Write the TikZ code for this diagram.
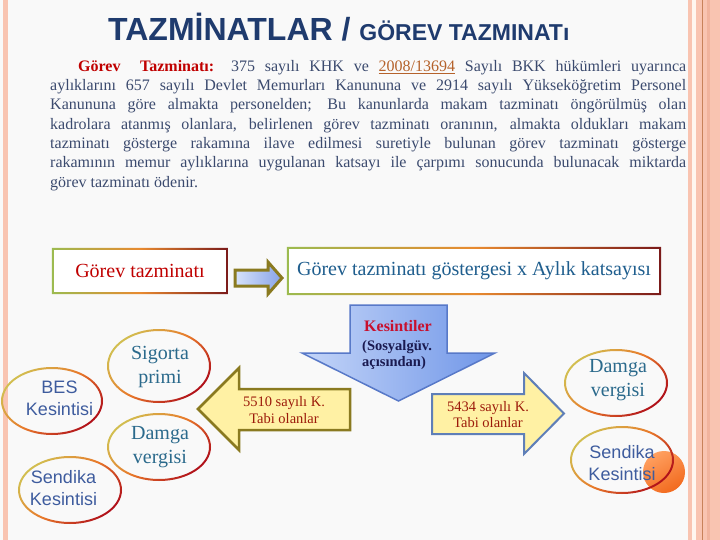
\documentclass[tikz,border=0pt]{standalone}
\usepackage{fontspec}
\setmainfont{Liberation Serif}
\newfontfamily\arialf{Liberation Sans}
\definecolor{pagebg}{HTML}{F9F9F9}
\definecolor{salmon}{HTML}{F9C4B1}
\definecolor{salmondark}{HTML}{F1B39D}
\definecolor{brownline}{HTML}{C8825A}
\definecolor{cream}{HTML}{FFF6EF}
\definecolor{titleblue}{HTML}{1F3B6E}
\definecolor{paratext}{HTML}{3B4A6E}
\definecolor{redtxt}{HTML}{C00000}
\definecolor{linkc}{HTML}{B5622B}
\definecolor{boxtwotxt}{HTML}{1F5E8E}
\definecolor{ellserif}{HTML}{2B6A8C}
\definecolor{ellsans}{HTML}{3E5C9E}
\definecolor{ringA}{HTML}{D2BE50}
\definecolor{ringB}{HTML}{E8782A}
\definecolor{ringC}{HTML}{B0101A}
\definecolor{boxA}{HTML}{9CBB50}
\definecolor{boxB}{HTML}{E88A30}
\definecolor{boxC}{HTML}{7A1A1A}
\definecolor{yelfill}{HTML}{FFF1A4}
\definecolor{olivebrd}{HTML}{8A7A20}
\definecolor{steelbrd}{HTML}{5F7FB8}
\definecolor{bigblueA}{HTML}{C4D5F8}
\definecolor{bigblueB}{HTML}{7096E8}
\definecolor{bigbluebrd}{HTML}{5879C8}
\definecolor{smallblueA}{HTML}{D6E2FA}
\definecolor{smallblueB}{HTML}{88A3E8}
\definecolor{kesred}{HTML}{C8102E}
\definecolor{navytxt}{HTML}{1A1A50}
\definecolor{labelred}{HTML}{9C1A0A}
\definecolor{orangeA}{HTML}{FFA060}
\definecolor{orangeB}{HTML}{F26A1E}
\newcommand\ringell[4]{\shade[ringshade, even odd rule] (#1,#2) ellipse [x radius=#3pt, y radius=#4pt] (#1,#2) ellipse [x radius=#3pt-2pt, y radius=#4pt-2pt];}
\tikzset{
  ringshade/.style={top color=ringA, bottom color=ringC, middle color=ringB, shading angle=45},
  boxshade/.style={left color=boxA, right color=boxC, middle color=boxB},
  boxnode/.style={fill=white, inner sep=0pt},
  elserif/.style={align=center, inner sep=0pt, text=ellserif, font=\fontsize{20}{24}\selectfont},
  elsans/.style={align=center, inner sep=0pt, text=ellsans, font=\arialf\fontsize{18}{22}\selectfont},
  arrlabel/.style={align=center, inner sep=0pt, text=labelred, font=\fontsize{14.5}{16.5}\selectfont},
}
\begin{document}
\begin{tikzpicture}[x=1pt,y=-1pt]
\useasboundingbox (0,0) rectangle (720,540);
\fill[pagebg] (0,0) rectangle (720,540);
\fill[salmon] (3,0) rectangle (8,540);
\fill[salmon] (688,0) rectangle (692,540);
\fill[cream] (692,0) rectangle (696,540);
\fill[salmon] (696,0) rectangle (720,540);
\fill[salmondark] (707,0) rectangle (709.5,540);
\fill[brownline] (702,0) rectangle (703,540);

% title
\node[anchor=base west, inner sep=0pt, text=titleblue, font=\arialf\bfseries] (title) at (108,41)
  {\fontsize{32}{36}\selectfont TAZMİNATLAR / {\fontsize{23}{26}\selectfont GÖREV TAZMINATı}};

% paragraph
\node[anchor=north west, inner sep=0pt, text width=636pt, align=justify, text=paratext,
      font=\fontsize{16}{19.3}\selectfont] (para) at (50,60)
 {\hspace*{28pt}{\color{redtxt}\bfseries Görev\ \ Tazminatı:} 375 sayılı KHK ve {\color{linkc}\underline{2008/13694}} Sayılı BKK hükümleri uyarınca\linebreak
  aylıklarını 657 sayılı Devlet Memurları Kanununa ve 2914 sayılı Yükseköğretim Personel\linebreak
  Kanununa göre almakta personelden; Bu kanunlarda makam tazminatı öngörülmüş olan\linebreak
  kadrolara atanmış olanlara, belirlenen görev tazminatı oranının, almakta oldukları makam\linebreak
  tazminatı gösterge rakamına ilave edilmesi suretiyle bulunan görev tazminatı gösterge\linebreak
  rakamının memur aylıklarına uygulanan katsayı ile çarpımı sonucunda bulunacak miktarda\linebreak
  görev tazminatı ödenir.};

% boxes
\node[boxnode, minimum width=176pt, minimum height=46pt, text=redtxt, font=\fontsize{20}{22}\selectfont] (b1) at (140,271) {Görev tazminatı};
\shade[boxshade, even odd rule] (b1.south west) rectangle (b1.north east) ([shift={(2pt,2pt)}]b1.south west) rectangle ([shift={(-2pt,-2pt)}]b1.north east);
\node[boxnode, minimum width=374pt, minimum height=48pt, text=boxtwotxt, font=\fontsize{20}{22}\selectfont] (b2) at (474,271) {Görev tazminatı göstergesi x Aylık katsayısı};
\shade[boxshade, even odd rule] (b2.south west) rectangle (b2.north east) ([shift={(2pt,2pt)}]b2.south west) rectangle ([shift={(-2pt,-2pt)}]b2.north east);

% small arrow between boxes
\shadedraw[left color=smallblueA, right color=smallblueB, draw=olivebrd, line width=3pt, line join=miter]
  (235,270) -- (268,270) -- (268,262) -- (282,278) -- (268,294) -- (268,286) -- (235,286) -- cycle;

% big blue down arrow
\shadedraw[left color=bigblueA, right color=bigblueB, draw=bigbluebrd, line width=1.5pt, line join=miter]
  (350,305) -- (447,305) -- (447,353) -- (495,353) -- (398.5,401) -- (302,353) -- (350,353) -- cycle;
\node[anchor=west, align=left, inner sep=0pt, text=navytxt, font=\bfseries\fontsize{14.5}{15.5}\selectfont] (kes) at (362,345)
  {\hspace*{2pt}{\color{kesred}\fontsize{16}{16}\selectfont Kesintiler}\\[3.5pt](Sosyalgüv.\\açısından)};

% yellow arrows
\filldraw[fill=yelfill, draw=olivebrd, line width=2.5pt, line join=miter]
  (350,389) -- (239,389) -- (239,368) -- (198,409) -- (239,450) -- (239,430) -- (350,430) -- cycle;
\node[arrlabel] (t5510) at (284,410) {5510 sayılı K.\\Tabi olanlar};
\filldraw[fill=yelfill, draw=steelbrd, line width=2pt, line join=miter]
  (432,394) -- (524,394) -- (524,373) -- (564,413.5) -- (524,454) -- (524,434) -- (432,434) -- cycle;
\node[arrlabel] (t5434) at (488,414.5) {5434 sayılı K.\\Tabi olanlar};

% orange circle
\shade[top color=orangeA, bottom color=orangeB, shading angle=30] (664,472) circle [radius=21pt];

% ellipses
\ringell{159}{366}{52}{37}
\ringell{52}{401}{51}{34}
\ringell{159}{447}{52}{34}
\ringell{70}{490}{52}{34}
\ringell{616}{383}{52}{34}
\ringell{622}{460}{52}{34}
\node[elserif] (sig) at (160,367) {Sigorta\\primi};
\node[elserif] (dam1) at (160,447.5) {Damga\\vergisi};
\node[elserif] (dam2) at (618,380) {Damga\\vergisi};
\node[elsans] (bes) at (59.5,398) {BES\\Kesintisi};
\node[elsans] (sen1) at (63.5,488) {Sendika\\Kesintisi};
\node[elsans] (sen2) at (622,463.5) {Sendika\\Kesintisi};
\end{tikzpicture}
\end{document}
